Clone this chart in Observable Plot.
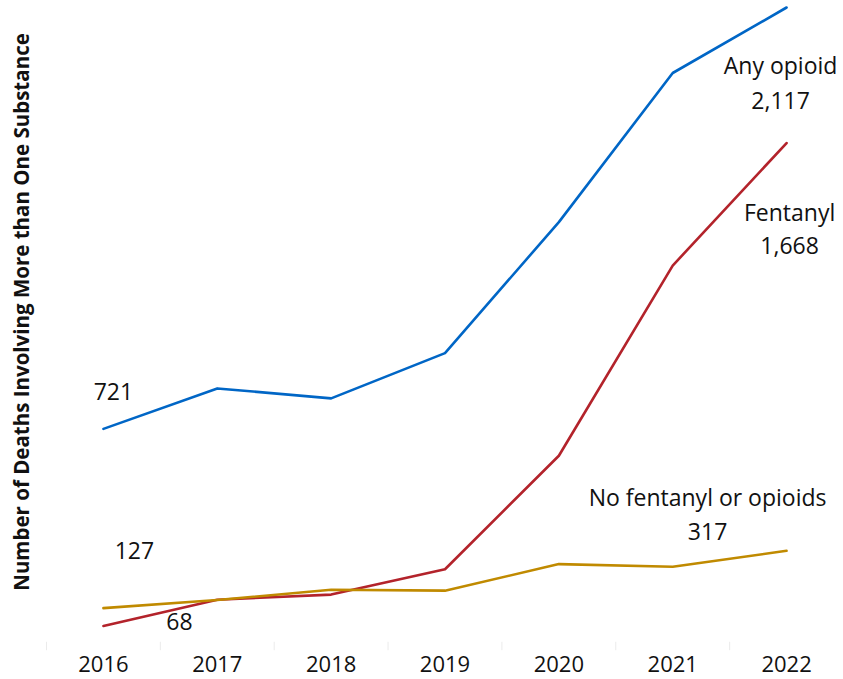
<!DOCTYPE html>
<html>
<head>
<meta charset="utf-8">
<script src="https://cdn.jsdelivr.net/npm/d3@7"></script>
<script src="https://cdn.jsdelivr.net/npm/@observablehq/plot@0.6"></script>
<style>
  html, body { margin: 0; padding: 0; background: #fff; }
</style>
</head>
<body>
<div id="chart"></div>
<script>
const years = [2016, 2017, 2018, 2019, 2020, 2021, 2022];
const anyOpioid = [721, 855, 822, 972, 1406, 1900, 2117];
const fentanyl = [68, 155, 172, 256, 632, 1262, 1668];
const noFentanylOrOpioids = [127, 154, 188, 185, 273, 264, 317];
const seriesNames = ["Any opioid", "Fentanyl", "No fentanyl or opioids"];
const seriesColors = ["#0066c6", "#b3232b", "#c08a00"];
const yLabel = "Number of Deaths Involving More than One Substance";

const seriesValues = [anyOpioid, fentanyl, noFentanylOrOpioids];
const data = seriesNames.flatMap((name, i) =>
  years.map((year, j) => ({ series: name, year, value: seriesValues[i][j] }))
);
const bounds = years.map(y => y - 0.5).concat([years[years.length - 1] + 0.5]);
const fmt = d3.format(",");
const n = years.length;
const lastPt = i => ({ name: seriesNames[i], year: years[n - 1], value: seriesValues[i][n - 1] });
const firstPt = i => ({ name: seriesNames[i], year: years[0], value: seriesValues[i][0] });

const font = "'Open Sans', sans-serif";
const fs = 23;

const chart = Plot.plot({
  width: 843,
  height: 679,
  marginLeft: 46,
  marginRight: 0,
  marginTop: 7,
  marginBottom: 33,
  style: { fontFamily: font, fontSize: "22px", color: "#111", background: "#fff" },
  x: { domain: [years[0] - 0.5, years[n - 1] + 0.5], ticks: years, tickFormat: d => String(d), tickSize: 0, tickPadding: 10, label: null },
  y: { domain: [0, 2117], axis: null },
  color: { domain: seriesNames, range: seriesColors },
  marks: [
    Plot.ruleX(bounds, { x: d => d, y1: -14, y2: 14, stroke: "#ebebeb", strokeWidth: 1 }),
    Plot.line(data, { x: "year", y: "value", z: "series", stroke: "series", strokeWidth: 2.6 }),
    Plot.text([lastPt(0)], { x: "year", y: "value", text: d => d.name + "\n" + fmt(d.value), dx: -6, dy: 73, lineHeight: 1.5, fontSize: fs, fill: "#111" }),
    Plot.text([lastPt(1)], { x: "year", y: "value", text: d => d.name + "\n" + fmt(d.value), dx: 3, dy: 84, lineHeight: 1.45, fontSize: fs, fill: "#111" }),
    Plot.text([lastPt(2)], { x: "year", y: "value", text: d => d.name + "\n" + fmt(d.value), dx: -79, dy: -39, lineHeight: 1.5, fontSize: fs, fill: "#111" }),
    Plot.text([firstPt(0)], { x: "year", y: "value", text: d => fmt(d.value), dx: 10, dy: -36, fontSize: fs, fill: "#111" }),
    Plot.text([firstPt(2)], { x: "year", y: "value", text: d => fmt(d.value), dx: 31, dy: -57, fontSize: fs, fill: "#111" }),
    Plot.text([firstPt(1)], { x: "year", y: "value", text: d => fmt(d.value), dx: 76, dy: -3, fontSize: fs, fill: "#111" }),
    Plot.text([yLabel], { frameAnchor: "left", rotate: -90, dx: -24, dy: -15, fontWeight: "bold", fontSize: 20.5, fill: "#111", textAnchor: "middle" })
  ]
});
document.getElementById("chart").appendChild(chart);
</script>
</body>
</html>
